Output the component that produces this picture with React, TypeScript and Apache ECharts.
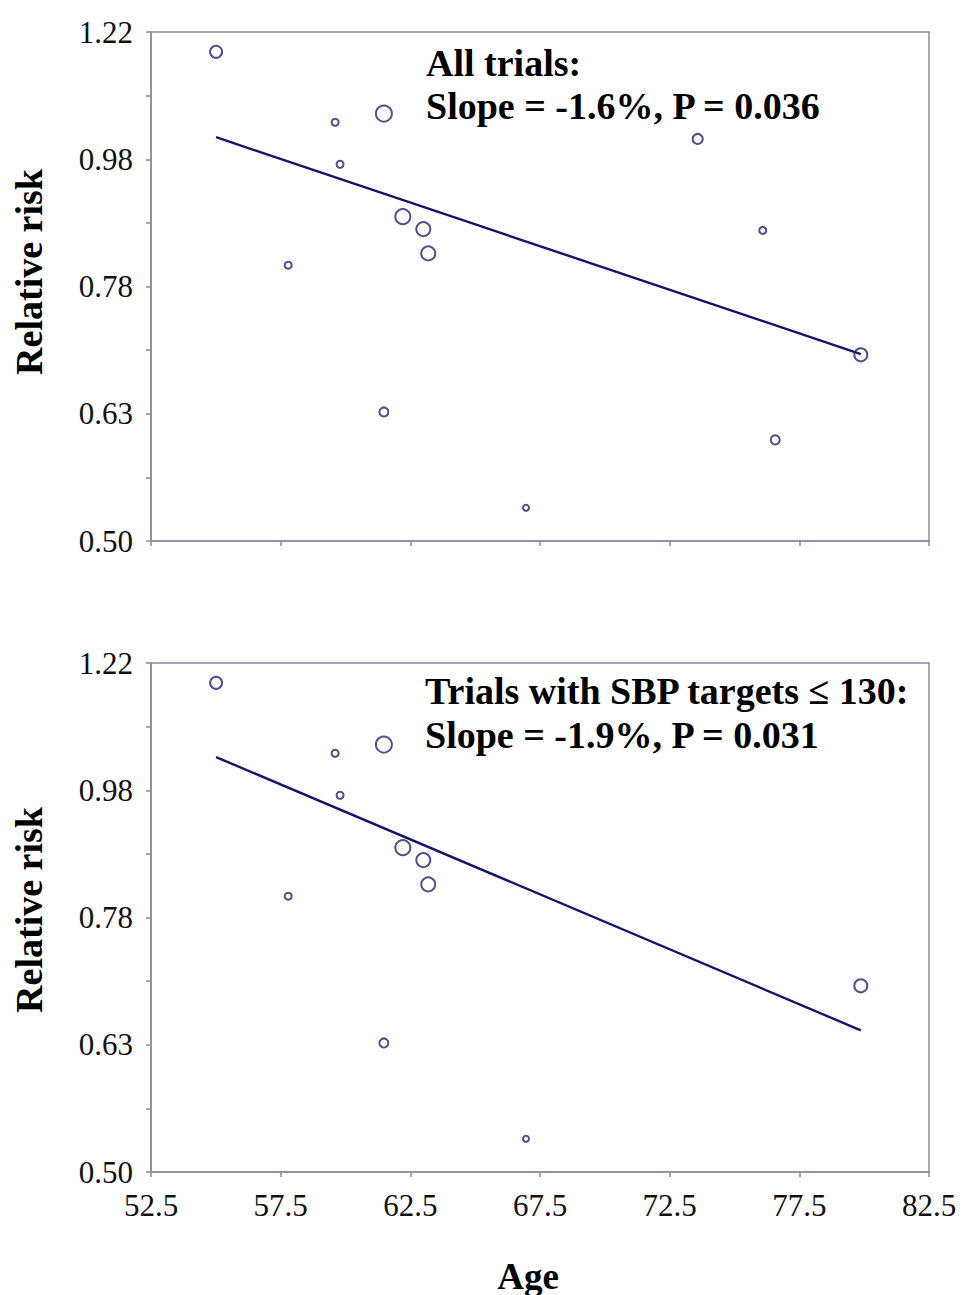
import React, { useEffect, useRef } from 'react';
import * as echarts from 'echarts';

// Trial-level data (age vs relative risk, marker size = trial weight)
const ages = [55.01, 59.6, 61.48, 59.79, 62.21, 63.0, 63.19, 57.79, 61.48, 66.96, 73.58, 76.09, 76.57, 79.87];
const relativeRisks = [1.179, 1.042, 1.058, 0.968, 0.883, 0.864, 0.828, 0.811, 0.627, 0.53, 1.012, 0.862, 0.597, 0.693];
const trialWeights = [12, 7, 16, 7, 15, 14, 14, 7, 9, 6, 10, 7, 9, 13];
const sbpTargetLe130 = [true, true, true, true, true, true, true, true, true, true, false, false, false, true];

// Meta-regression lines (end points)
const fitAllAge = [55.01, 79.87];
const fitAllRR = [1.015, 0.694];
const fit130Age = [55.01, 79.87];
const fit130RR = [1.035, 0.641];

// Axes
const xMin = 52.5;
const xMax = 82.5;
const xStep = 5;
const yTickLabels = ['0.50', '0.63', '0.78', '0.98', '1.22'];
const yBase = 0.5;
const yRatio = 1.25;

const topTitle = ['All trials:', 'Slope = -1.6%, P = 0.036'];
const bottomTitle = ['Trials with SBP targets \u2264 130:', 'Slope = -1.9%, P = 0.031'];

const toLog = (rr: number) => Math.log(rr / yBase) / Math.log(yRatio);

const FONT = '"Liberation Serif", "Times New Roman", serif';
const FRAME = '#8a8aa2';
const MARK = '#24246e';
const LINE = '#14146a';

export default function App() {
  const ref = useRef<HTMLDivElement>(null);

  useEffect(() => {
    document.body.style.margin = '0';
    const chart = echarts.init(ref.current!, undefined, { renderer: 'svg' });

    const allPts = ages.map((a, i) => [a, toLog(relativeRisks[i]), trialWeights[i]]);
    const subPts = allPts.filter((_, i) => sbpTargetLe130[i]);
    const fitAll = fitAllAge.map((a, i) => [a, toLog(fitAllRR[i])]);
    const fit130 = fit130Age.map((a, i) => [a, toLog(fit130RR[i])]);

    const grids = [
      { left: 151, right: 33, top: 32, height: 509 },
      { left: 151, right: 33, top: 663, height: 509 },
    ];

    const xAxis = [0, 1].map((g) => ({
      type: 'value',
      gridIndex: g,
      min: xMin,
      max: xMax,
      interval: xStep,
      axisLine: { show: true, lineStyle: { color: FRAME, width: 1.5 } },
      axisTick: { show: true, inside: false, length: 5, lineStyle: { color: FRAME, width: 1.5 } },
      splitLine: { show: false },
      axisLabel: {
        show: g === 1,
        margin: 18,
        fontFamily: FONT,
        fontSize: 31,
        color: '#111',
        formatter: (v: number) => v.toFixed(1),
      },
    }));

    const yAxis = [0, 1].map((g) => ({
      type: 'value',
      gridIndex: g,
      min: 0,
      max: yTickLabels.length - 1,
      interval: 0.5,
      axisLine: { show: true, lineStyle: { color: FRAME, width: 1.5 } },
      axisTick: { show: true, inside: false, length: 5, lineStyle: { color: FRAME, width: 1.5 } },
      splitLine: { show: false },
      axisLabel: {
        margin: 18,
        fontFamily: FONT,
        fontSize: 31,
        color: '#111',
        formatter: (v: number) => {
          const r = Math.round(v);
          return Math.abs(v - r) < 1e-6 ? yTickLabels[r] : '';
        },
      },
    }));

    const scatterStyle = {
      color: 'rgba(255,255,255,0)',
      borderColor: MARK,
      borderWidth: 2,
    };

    const titleStyle = (txt: string, x: number, y: number) => ({
      type: 'text',
      x,
      y,
      style: {
        text: txt,
        font: `bold 38px ${FONT}`,
        fill: '#000',
        textAlign: 'left',
        textVerticalAlign: 'middle',
      },
    });

    const yTitle = (y: number) => ({
      type: 'text',
      x: 29,
      y,
      rotation: Math.PI / 2,
      style: {
        text: 'Relative risk',
        font: `bold 38px ${FONT}`,
        fill: '#000',
        textAlign: 'center',
        textVerticalAlign: 'middle',
      },
    });

    chart.setOption({
      animation: false,
      backgroundColor: '#fff',
      grid: grids.map((g) => ({ ...g, show: true, borderColor: FRAME, borderWidth: 1.5, backgroundColor: 'transparent' })),
      xAxis,
      yAxis,
      series: [
        {
          type: 'line',
          xAxisIndex: 0,
          yAxisIndex: 0,
          data: fitAll,
          symbol: 'none',
          lineStyle: { color: LINE, width: 2.4 },
          z: 2,
        },
        {
          type: 'scatter',
          xAxisIndex: 0,
          yAxisIndex: 0,
          data: allPts,
          symbol: 'circle',
          symbolSize: (v: number[]) => v[2],
          itemStyle: scatterStyle,
          z: 3,
        },
        {
          type: 'line',
          xAxisIndex: 1,
          yAxisIndex: 1,
          data: fit130,
          symbol: 'none',
          lineStyle: { color: LINE, width: 2.4 },
          z: 2,
        },
        {
          type: 'scatter',
          xAxisIndex: 1,
          yAxisIndex: 1,
          data: subPts,
          symbol: 'circle',
          symbolSize: (v: number[]) => v[2],
          itemStyle: scatterStyle,
          z: 3,
        },
      ],
      graphic: [
        titleStyle(topTitle[0], 426, 63),
        titleStyle(topTitle[1], 426, 106),
        titleStyle(bottomTitle[0], 425, 691),
        titleStyle(bottomTitle[1], 425, 735),
        yTitle(272),
        yTitle(910),
        {
          type: 'text',
          x: 528,
          y: 1276,
          style: {
            text: 'Age',
            font: `bold 37px ${FONT}`,
            fill: '#000',
            textAlign: 'center',
            textVerticalAlign: 'middle',
          },
        },
      ],
    });

    return () => chart.dispose();
  }, []);

  return <div ref={ref} style={{ width: 962, height: 1295 }} />;
}
